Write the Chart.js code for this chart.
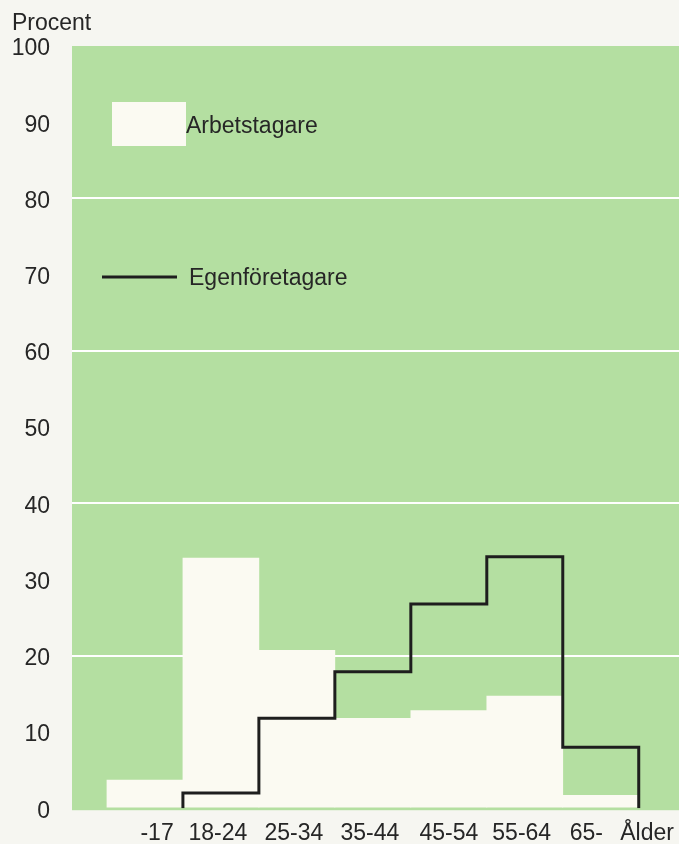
<!DOCTYPE html>
<html>
<head>
<meta charset="utf-8">
<script src="https://cdn.jsdelivr.net/npm/chart.js@4.4.0/dist/chart.umd.min.js"></script>
<style>
  body {
    margin: 0;
    background: #f6f6f1;
  }
  canvas {
    display: block;
  }
</style>
</head>
<body>
<canvas id="myChart" width="679" height="844"></canvas>

<script>
  // Åldersgrupper och värden (procent)
  const aldersgrupper = ['-17', '18-24', '25-34', '35-44', '45-54', '55-64', '65-'];
  const arbetstagare = [3.7, 32.8, 20.7, 11.8, 12.8, 14.7, 1.7];
  const egenforetagare = [null, 2.0, 11.8, 17.9, 26.8, 33.0, 8.0];
  const xEtiketter = ['-17', '18-24', '25-34', '35-44', '45-54', '55-64', '65-', 'Ålder'];
  const yTicks = [0, 10, 20, 30, 40, 50, 60, 70, 80, 90, 100];

  // var etiketterna står under axeln (texten är satt som en rad i originalet)
  const etikettPlats = [0.16, 0.96, 1.96, 2.96, 4.0, 4.96, 5.81, 6.61];

  const textFarg = '#262626';
  const gron = '#b4dfa1';
  const font = { family: '"Liberation Sans", Arial, sans-serif', size: 23 };

  // staplar: en per åldersgrupp
  const stapelData = arbetstagare.map((v, i) => ({ x: i, y: v }));

  // trappstegslinje: börjar på noll vid första gruppen med värde
  const linjeData = [];
  let sista = 0;
  egenforetagare.forEach((v, i) => {
    if (v === null) return;
    if (linjeData.length === 0) linjeData.push({ x: i - 0.5, y: 0 });
    linjeData.push({ x: i - 0.5, y: v });
    sista = i;
  });
  linjeData.push({ x: sista + 0.5, y: 0 });

  // grön bakgrund, rubrik och egen teckenförklaring
  const bakgrund = {
    id: 'bakgrund',
    beforeDraw(chart) {
      const { ctx, chartArea: a } = chart;
      ctx.save();
      ctx.fillStyle = gron;
      ctx.fillRect(a.left, a.top, a.right - a.left, a.bottom - a.top + 2);
      ctx.restore();
    },
    afterDraw(chart) {
      const { ctx, chartArea: a } = chart;
      ctx.save();
      ctx.font = font.size + 'px ' + font.family;
      ctx.fillStyle = textFarg;
      ctx.textBaseline = 'alphabetic';
      ctx.fillText('Procent', 12, 30);

      // Arbetstagare
      ctx.fillStyle = '#fbfaf2';
      ctx.fillRect(a.left + 40, 102, 74, 44);
      ctx.fillStyle = textFarg;
      ctx.textBaseline = 'middle';
      ctx.fillText('Arbetstagare', a.left + 114, 127);

      // Egenföretagare
      ctx.strokeStyle = '#1e1e1e';
      ctx.lineWidth = 3;
      ctx.beginPath();
      ctx.moveTo(a.left + 30, 277);
      ctx.lineTo(a.left + 105, 277);
      ctx.stroke();
      ctx.fillText('Egenföretagare', a.left + 117, 279);
      ctx.restore();
    }
  };

  const ctx = document.getElementById('myChart').getContext('2d');

  const myChart = new Chart(ctx, {
    type: 'bar',
    data: {
      datasets: [
        {
          type: 'line',
          label: 'Egenföretagare',
          data: linjeData,
          stepped: true,
          borderColor: '#1e1e1e',
          borderWidth: 3,
          borderJoinStyle: 'miter',
          pointRadius: 0,
          fill: false,
          order: 0,
        },
        {
          label: 'Arbetstagare',
          data: stapelData,
          backgroundColor: '#fbfaf2',
          borderWidth: 0,
          barPercentage: 1,
          categoryPercentage: 1,
          order: 1,
        },
      ],
    },
    options: {
      responsive: false,
      animation: false,
      layout: {
        padding: { top: 46, right: 0, bottom: 0, left: 0 },
      },
      plugins: {
        legend: { display: false },
        tooltip: { enabled: false },
      },
      scales: {
        x: {
          type: 'linear',
          display: false,
          offset: false,
          min: -0.96,
          max: 7.03,
          ticks: { stepSize: 1, includeBounds: false },
        },
        xl: {
          type: 'linear',
          position: 'bottom',
          offset: false,
          min: -0.96,
          max: 7.03,
          grid: { display: false },
          border: { display: false },
          afterBuildTicks: (scale) => {
            scale.ticks = etikettPlats.map(p => ({ value: p }));
          },
          afterFit: (scale) => {
            scale.height = 34;
          },
          ticks: {
            autoSkip: false,
            maxRotation: 0,
            padding: 4,
            color: textFarg,
            font: font,
            callback: (value, index) => xEtiketter[index],
          },
        },
        y: {
          min: 0,
          max: 100,
          afterBuildTicks: (scale) => {
            scale.ticks = yTicks.map(v => ({ value: v }));
          },
          afterFit: (scale) => {
            scale.width = 72;
          },
          border: { display: false },
          grid: {
            drawTicks: false,
            lineWidth: 2,
            color: (c) => (c.tick && c.tick.value % 20 === 0 && c.tick.value > 0 && c.tick.value < 100) ? '#ffffff' : 'rgba(0,0,0,0)',
          },
          ticks: {
            padding: 22,
            labelOffset: 3,
            color: textFarg,
            font: font,
          },
        },
      },
    },
    plugins: [bakgrund],
  });
</script>
</body>
</html>
